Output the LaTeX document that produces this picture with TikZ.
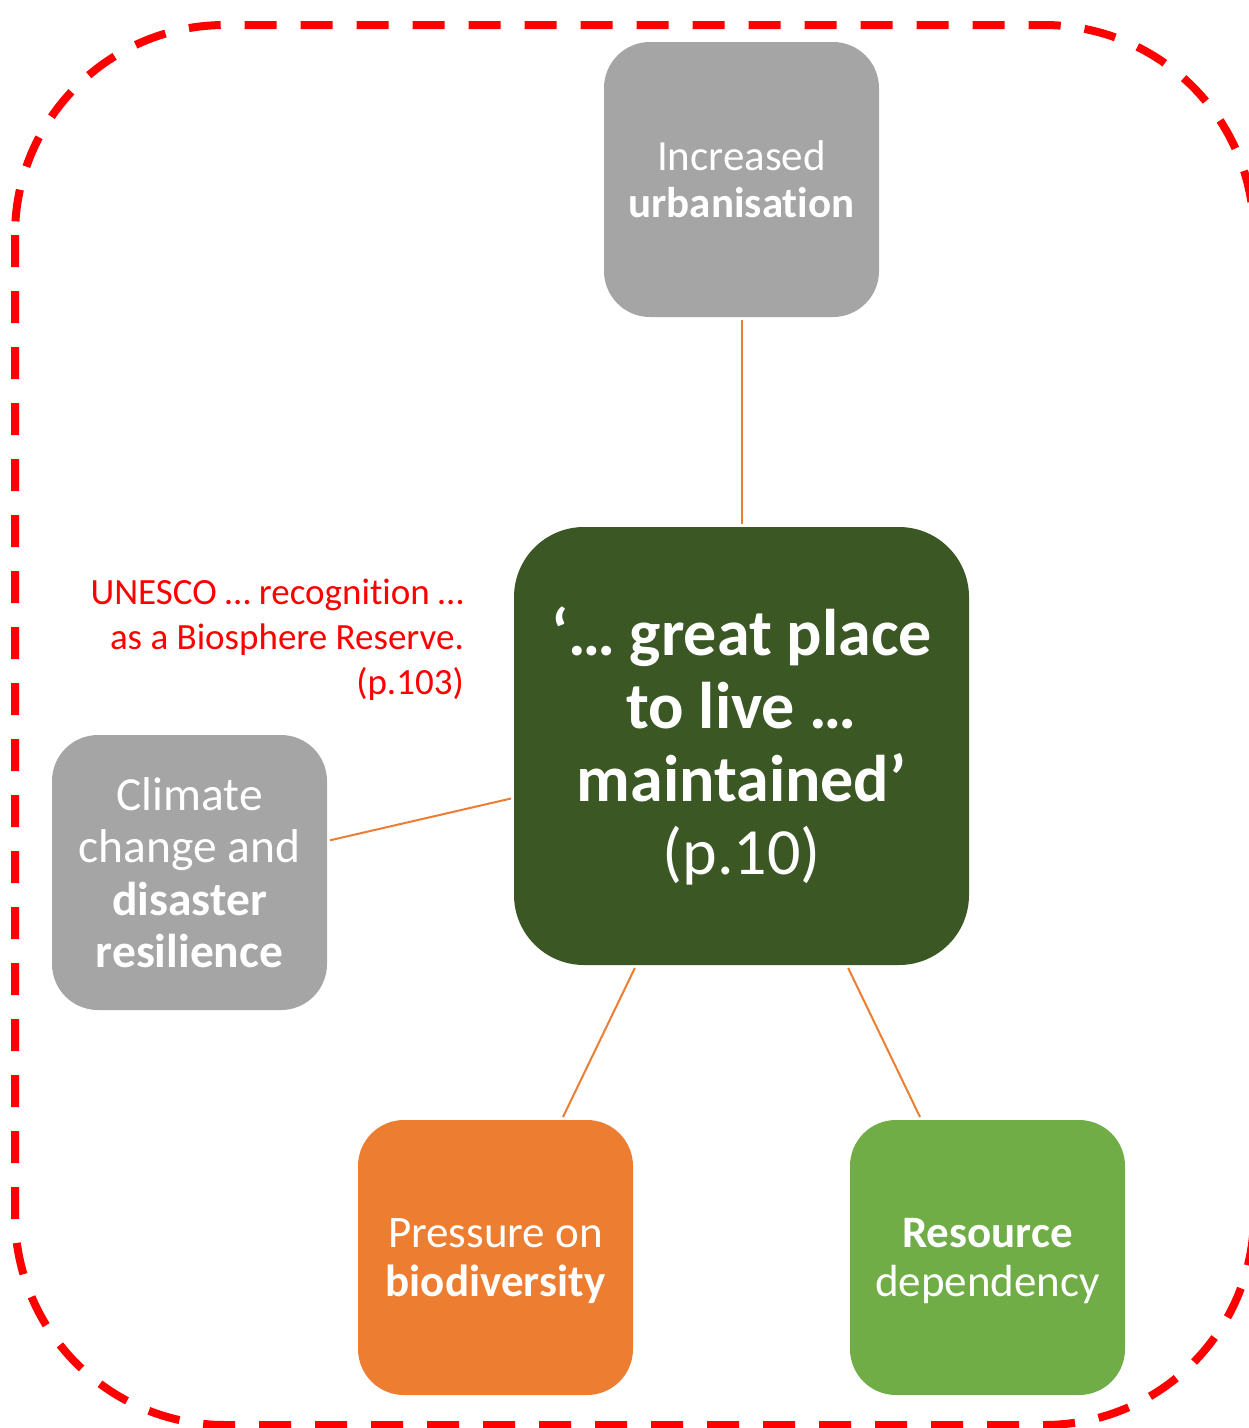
\documentclass[tikz,border=0pt]{standalone}
\usepackage{fontspec}
\setmainfont{Carlito}[Ligatures=NoCommon]
\definecolor{boxgray}{HTML}{A5A5A5}
\definecolor{dkgreen}{HTML}{3A5724}
\definecolor{boxorange}{HTML}{ED7D31}
\definecolor{boxgreen}{HTML}{70AD47}
\definecolor{linkorange}{HTML}{ED7D31}
\definecolor{notered}{HTML}{FF0000}
\begin{document}
\begin{tikzpicture}[x=1pt,y=-1pt,
  box/.style={rectangle, rounded corners=46pt, minimum width=275pt, minimum height=275pt,
    text=white, align=center, inner sep=0pt, outer sep=3pt, font=\fontsize{43}{47}\selectfont},
  lowbox/.style={box, font=\fontsize{45}{49}\selectfont, text depth=0pt},
  link/.style={draw=linkorange, line width=2pt}]
\useasboundingbox (0,0) rectangle (1249,1428);
\draw[notered, line width=8pt, dash pattern=on 32pt off 24pt, rounded corners=210pt]
  (15,25) rectangle (1254,1425);
\node[box, fill=boxgray] (urban) at (741.5,179.5) {Increased\\\textbf{urbanisation}};
\node[box, fill=dkgreen, minimum width=455pt, minimum height=438pt, rounded corners=70pt,
  font=\bfseries\fontsize{66}{73}\selectfont] (place) at (741.5,746)
  {‘… great place\\to live …\\maintained’\\\textmd{(p.10)}};
\node[box, fill=boxgray, font=\fontsize{47.5}{52.5}\selectfont] (climate) at (189.5,872.5)
  {Climate\\change and\\\textbf{disaster}\\\textbf{resilience}};
\node[lowbox, fill=boxorange] (bio) at (495.5,1257.5)
  {Pressure on\\\textbf{biodiversity}};
\node[lowbox, fill=boxgreen] (res) at (987.5,1257.5)
  {\textbf{Resource}\\dependency};
\node[anchor=east, align=right, text=notered, inner sep=0pt,
  font=\fontsize{37}{45}\selectfont] (unesco) at (464,640)
  {UNESCO … recognition …\\as a Biosphere Reserve.\\(p.103)};
\draw[link] (urban) -- (place);
\draw[link] (climate) -- (place);
\draw[link] (bio) -- (place);
\draw[link] (res) -- (place);
\end{tikzpicture}
\end{document}
